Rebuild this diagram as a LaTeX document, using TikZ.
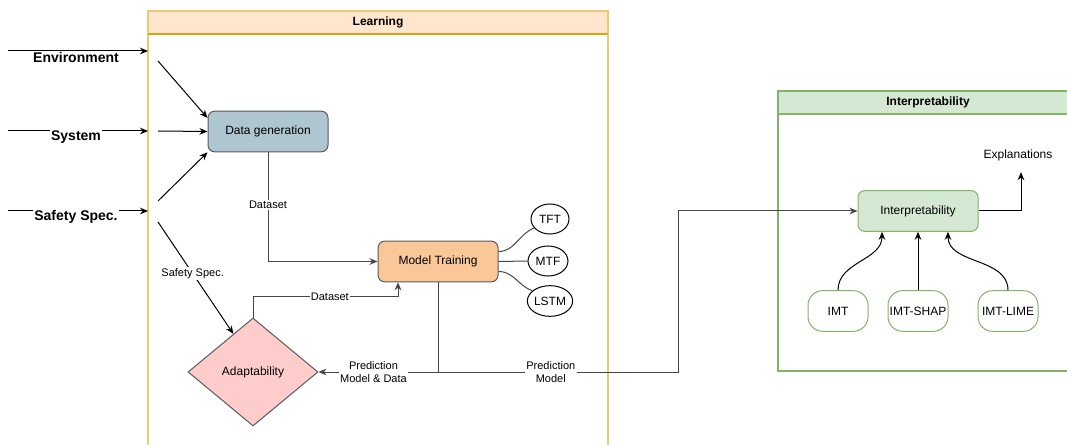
\documentclass[tikz,border=0pt]{standalone}
\usepackage{fontspec}
\setmainfont{Liberation Sans}
\usetikzlibrary{shapes.geometric,arrows.meta,calc}
\definecolor{learnfill}{HTML}{FFE6CC}
\definecolor{learnside}{RGB}{236,202,115}
\definecolor{learnhead}{RGB}{228,160,20}
\definecolor{greenfill}{HTML}{D5E8D4}
\definecolor{greenline}{HTML}{82B366}
\definecolor{dgfill}{RGB}{174,198,207}
\definecolor{mtfill}{RGB}{250,200,152}
\definecolor{adfill}{RGB}{255,204,204}
\definecolor{edgegray}{RGB}{70,70,70}
\definecolor{boxline}{RGB}{90,90,90}
\tikzset{
  box/.style={draw=boxline, line width=0.75pt, rounded corners=5pt, minimum width=90pt, minimum height=30.5pt, inner sep=0pt, font=\fontsize{9}{11}\selectfont},
  oval/.style={draw=black, line width=0.75pt, ellipse, inner sep=0pt, fill=white, font=\fontsize{9}{11}\selectfont},
  pill/.style={draw=greenline, line width=0.75pt, rounded corners=11pt, minimum width=45pt, minimum height=30.5pt, inner sep=0pt, fill=white, font=\fontsize{9}{11}\selectfont},
  lbl/.style={fill=white, inner sep=1pt, font=\fontsize{8.25}{9.5}\selectfont, align=center},
  bigl/.style={fill=white, inner sep=1pt, font=\bfseries\fontsize{10.5}{12}\selectfont},
  arr/.style={-{Stealth[length=6pt,width=5pt]}, line width=0.75pt},
  conn/.style={draw=edgegray, line width=0.75pt},
  hdr/.style={font=\bfseries\fontsize{9}{11}\selectfont}
}
\begin{document}
\begin{tikzpicture}[x=0.75pt,y=-0.75pt]
\useasboundingbox (0,0) rectangle (1067,445);
% Learning container
\fill[learnfill] (148,11) rectangle (608,34);
\draw[learnside, line width=1.2pt] (148,447) -- (148,11) -- (608,11) -- (608,447);
\draw[learnhead, line width=1.2pt] (148,34) -- (608,34);
\node[hdr] (lt) at (378,22.5) {Learning};
% Interpretability container
\fill[greenfill] (778,91) rectangle (1070,114);
\draw[greenline, line width=1.2pt] (1070,91) -- (778,91) -- (778,371) -- (1070,371);
\draw[greenline, line width=1.2pt] (778,114) -- (1070,114);
\node[hdr] (it) at (928,102.5) {Interpretability};

% nodes
\node[box, fill=dgfill] (dg) at (268,131.5) {Data generation};
\node[box, fill=mtfill] (mt) at (438,261.5) {Model Training};
\node[oval, minimum width=28.5pt, minimum height=22.5pt] (tft) at (550,219) {TFT};
\node[oval, minimum width=30pt, minimum height=22.5pt] (mtf) at (548,261) {MTF};
\node[oval, minimum width=33pt, minimum height=23pt] (lstm) at (550,301) {LSTM};
\node[diamond, draw=boxline, line width=0.75pt, fill=adfill, aspect=1.2, minimum width=97.5pt, minimum height=81pt, inner sep=0pt, font=\fontsize{9}{11}\selectfont] (ad) at (253,372) {Adaptability};
\node[box, draw=greenline, fill=greenfill] (ip) at (918,211) {Interpretability};
\node[font=\fontsize{9}{11}\selectfont, inner sep=1pt] (ex) at (1018,155) {Explanations};
\node[pill] (imt) at (838,311) {IMT};
\node[pill] (shap) at (918,311) {IMT-SHAP};
\node[pill] (lime) at (1008,311) {IMT-LIME};

% inputs
\coordinate (e0) at (8,51); \coordinate (e1) at (148,51);
\coordinate (s0) at (8,131); \coordinate (s1) at (148,131);
\coordinate (f0) at (8,211); \coordinate (f1) at (148,211);
\draw[arr] (e0) -- (e1);
\draw[arr] (s0) -- (s1);
\draw[arr] (f0) -- (f1);
\node[bigl] (envl) at (76,57) {Environment};
\node[bigl] (sysl) at (76,137) {System};
\node[bigl] (safl) at (76,217) {Safety Spec.};

\coordinate (i1) at (158,61);
\coordinate (i2) at (158,131);
\coordinate (i3) at (158,201);
\coordinate (i4) at (158,222);
\draw[arr] (i1) -- (dg.west |- 0,118);
\draw[arr] (i2) -- (dg.west);
\draw[arr] (i3) -- (dg.south west);
\draw[arr] (i4) -- ($(ad.north)!0.3!(ad.west)$) node[lbl, pos=0.46] {Safety Spec.};

% dataset
\draw[conn, arr] (dg.south) |- (mt.west) node[lbl, pos=0.24] {Dataset};
\draw[conn, arr] (ad.north) -- ++(0,-21) -| ($(mt.south)+(-40,0)$) node[lbl, pos=0.265] {Dataset};

% prediction
\coordinate (j) at (mt.south |- ad.east);
\draw[conn, arr] (mt.south) |- (ad.east) node[lbl, pos=0.77] {Prediction\\Model \& Data};
\draw[conn, arr] (j) -- node[lbl, pos=0.47] {Prediction\\Model} ++(240,0) |- (ip.west);

% TFT etc.
\draw[conn] ($(mt.east)+(0,-10)$) to[out=0,in=200] (tft.210);
\draw[conn] (mt.east) -- (mtf.west);
\draw[conn] ($(mt.east)+(0,10)$) to[out=0,in=160] (lstm.150);

% interpretability
\draw[arr] (ip.east) -| ($(ex.south)+(3,10)$);
\draw[arr] (imt.north) to[out=90,in=-90] ($(ip.south)+(-36,0)$);
\draw[arr] (shap.north) -- (ip.south);
\draw[arr] (lime.north) to[out=90,in=-90] ($(ip.south)+(30,0)$);
\end{tikzpicture}
\end{document}
